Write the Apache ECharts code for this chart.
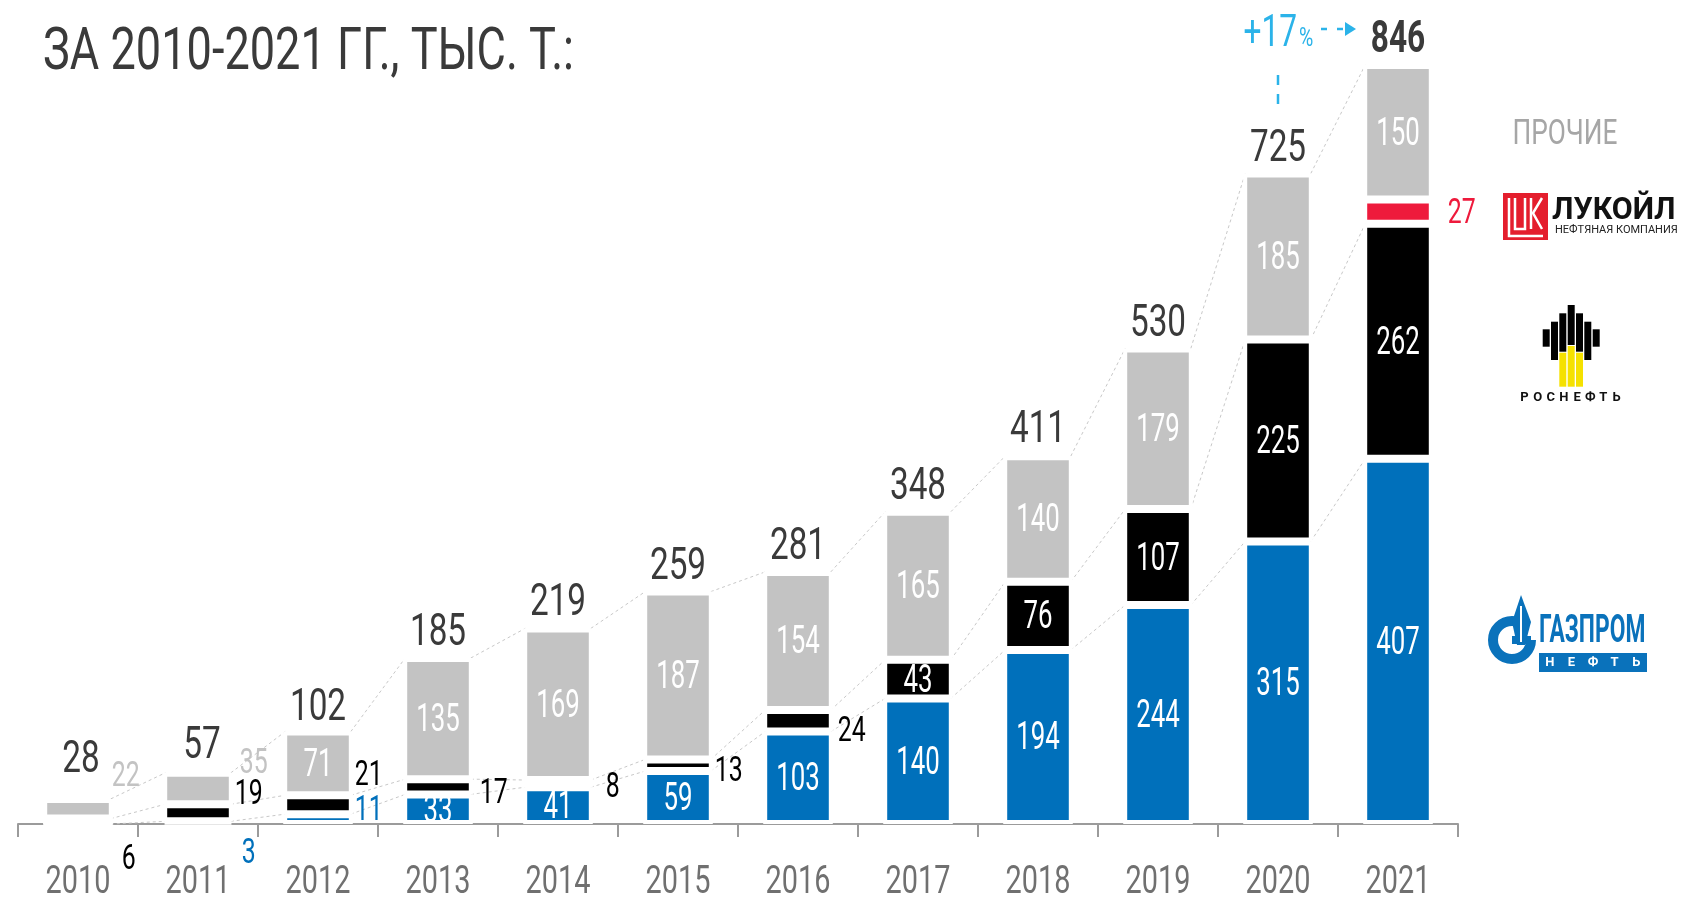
<!DOCTYPE html>
<html>
<head>
<meta charset="utf-8">
<script src="https://cdn.jsdelivr.net/npm/echarts@6/dist/echarts.min.js"></script>
<style>
  html, body { margin: 0; padding: 0; background: #fff; }
  #chart { width: 1691px; height: 908px; }
</style>
</head>
<body>
<div id="chart"></div>
<script>
// годы и значения (тыс. т)
const years = ['2010', '2011', '2012', '2013', '2014', '2015', '2016', '2017', '2018', '2019', '2020', '2021'];
const gazpromNeft = [0, 3, 11, 33, 41, 59, 103, 140, 194, 244, 315, 407];
const rosneft = [6, 19, 21, 17, 8, 13, 24, 43, 76, 107, 225, 262];
const lukoil = [0, 0, 0, 0, 0, 0, 0, 0, 0, 0, 0, 27];
const others = [22, 35, 71, 135, 169, 187, 154, 165, 140, 179, 185, 150];
const totals = [28, 57, 102, 185, 219, 259, 281, 348, 411, 530, 725, 846];
const growthText = '+17';

const FONT = "Roboto, 'DejaVu Sans', sans-serif";
const colors = { gazprom: '#0070bb', rosneft: '#000000', lukoil: '#ee1a3c', others: '#c3c3c3' };
const segKeys = ['gazprom', 'rosneft', 'lukoil', 'others'];

// подписи маленьких сегментов справа от столбца: [отступ от края, сдвиг по y]
const outsideLabels = {
  others: { 0: [1, -34], 1: [9, -27] },
  rosneft: { 0: [11, 36], 1: [4, -21], 2: [4, -31], 3: [9, 4], 4: [15, 2], 5: [4, 4], 6: [7, 8] },
  gazprom: { 1: [11, 29], 2: [4, -11] },
  lukoil: { 11: [17, 0] }
};
const totalShift = { 0: [3, -14], 1: [4, -2] };

function barSeries(name, key, values) {
  return {
    name: name, type: 'bar', stack: 'total', barWidth: '58%',
    itemStyle: { color: colors[key], borderColor: '#fff', borderWidth: 4 },
    data: values,
    z: 3
  };
}

// текст с горизонтальным сжатием (узкий шрифт)
function txt(x, y, text, fill, size, sx, opts) {
  opts = opts || {};
  return {
    type: 'text', x: x, y: y + 3, scaleX: sx,
    style: {
      text: text, fill: fill, font: (opts.bold ? 'bold ' : '') + size + 'px ' + FONT,
      align: opts.align || 'center', verticalAlign: 'middle'
    }
  };
}

// уровни для пунктирных соединительных линий
const lvlBlue = gazpromNeft.slice();
const lvlBlack = gazpromNeft.map((v, i) => v + rosneft[i]);
const lvlTop = gazpromNeft.map((v, i) => v + rosneft[i] + lukoil[i] + others[i]);
const connectorData = [];
for (let i = 0; i < years.length - 1; i++) {
  connectorData.push([i, lvlBlue[i], lvlBlack[i], lvlTop[i], lvlBlue[i + 1], lvlBlack[i + 1], lvlTop[i + 1]]);
}
const labelData = years.map((y, i) => [i, gazpromNeft[i], rosneft[i], lukoil[i], others[i], totals[i]]);

const chart = echarts.init(document.getElementById('chart'));

const option = {
  animation: false,
  backgroundColor: '#fff',
  grid: { left: 18, right: 233, top: 21, bottom: 84, outerBoundsMode: 'none' },
  xAxis: {
    type: 'category',
    data: years,
    axisLine: { lineStyle: { color: '#9b9b9b', width: 2 } },
    axisTick: { show: true, length: 13, lineStyle: { color: '#9b9b9b', width: 2 } },
    axisLabel: { show: false }
  },
  yAxis: { type: 'value', min: 0, max: 895, show: false, splitLine: { show: false } },
  series: [
    barSeries('Газпром нефть', 'gazprom', gazpromNeft),
    barSeries('Роснефть', 'rosneft', rosneft),
    barSeries('Лукойл', 'lukoil', lukoil),
    barSeries('Прочие', 'others', others),
    {
      type: 'custom', z: 1, silent: true, clip: false,
      encode: { x: 0, y: 1 },
      data: connectorData,
      renderItem: function (params, api) {
        const i = api.value(0);
        const half = api.size([1, 0])[0] * 0.58 / 2 - 2;
        const children = [];
        for (let k = 0; k < 3; k++) {
          const p1 = api.coord([i, api.value(1 + k)]);
          const p2 = api.coord([i + 1, api.value(4 + k)]);
          children.push({
            type: 'line',
            shape: { x1: p1[0] + half, y1: p1[1], x2: p2[0] - half, y2: p2[1] },
            style: { stroke: '#c8c8c8', lineWidth: 1, lineDash: [3, 3] }
          });
        }
        return { type: 'group', children: children };
      }
    },
    {
      // подписи: сегменты, итоги, годы
      type: 'custom', z: 10, silent: true, clip: false,
      encode: { x: 0, y: 5 },
      data: labelData,
      renderItem: function (params, api) {
        const i = api.value(0);
        const half = api.size([1, 0])[0] * 0.58 / 2 - 2;
        const base = api.coord([i, 0]);
        const cx = base[0];
        const children = [];
        let cum = 0;
        segKeys.forEach(function (key, k) {
          const v = api.value(1 + k);
          if (!v) return;
          const yA = api.coord([i, cum])[1];
          const yB = api.coord([i, cum + v])[1];
          cum += v;
          const yc = (yA + yB) / 2;
          const out = outsideLabels[key][i];
          if (out) children.push(txt(cx + half + out[0], yc + out[1], String(v), colors[key], 35, 0.71, { align: 'left' }));
          else children.push(txt(cx, yc, String(v), '#fff', 38, 0.68));
        });
        const t = api.value(5);
        const pt = api.coord([i, t]);
        const sh = totalShift[i] || [0, 0];
        const last = i === years.length - 1;
        children.push(txt(cx + sh[0], pt[1] - 27 + sh[1], String(t), '#3a3a3a', last ? 44 : 45, last ? 0.72 : 0.74, { bold: last }));
        children.push(txt(cx, base[1] + 56, years[i], '#707070', 39, 0.74));
        return { type: 'group', children: children };
      }
    }
  ]
};
chart.setOption(option);

// заголовок, аннотация роста и логотипы
const p20 = chart.convertToPixel({ gridIndex: 0 }, ['2020', totals[10]]);
const p21 = chart.convertToPixel({ gridIndex: 0 }, ['2021', totals[11]]);
const annY = p21[1] - 33;

const graphics = [
  txt(43, 51, 'ЗА 2010-2021 ГГ., ТЫС. Т.:', '#3a3a3a', 59, 0.765, { align: 'left' }),
  txt(p20[0] + 19, annY, growthText, '#2bb3e9', 44, 0.72, { align: 'right' }),
  txt(p20[0] + 21, annY + 5, '%', '#2bb3e9', 26, 0.75, { align: 'left' }),
  {
    type: 'line', shape: { x1: p20[0] + 43, y1: annY - 3, x2: p21[0] - 53, y2: annY - 3 },
    style: { stroke: '#2bb3e9', lineWidth: 2.5, lineDash: [6, 10] }
  },
  {
    type: 'polygon', shape: { points: [[p21[0] - 53, annY - 10], [p21[0] - 42, annY - 3], [p21[0] - 53, annY + 4]] },
    style: { fill: '#2bb3e9' }
  },
  {
    type: 'line', shape: { x1: p20[0], y1: annY + 43, x2: p20[0], y2: annY + 74 },
    style: { stroke: '#2bb3e9', lineWidth: 2.5, lineDash: [10, 9] }
  },
  // ПРОЧИЕ
  txt(1565, 132, 'ПРОЧИЕ', '#a6a6a6', 35, 0.75),
  // ЛУКОЙЛ
  { type: 'rect', shape: { x: 1503, y: 193, width: 45, height: 47 }, style: { fill: '#e41e2d' } },
  { type: 'polyline', shape: { points: [[1509, 198], [1509, 236], [1543, 236]] }, style: { stroke: '#fff', lineWidth: 2.5, fill: null } },
  { type: 'polyline', shape: { points: [[1515, 198], [1515, 229], [1525, 229], [1525, 198]] }, style: { stroke: '#fff', lineWidth: 2.5, fill: null } },
  { type: 'polyline', shape: { points: [[1531, 198], [1531, 229]] }, style: { stroke: '#fff', lineWidth: 2.5, fill: null } },
  { type: 'polyline', shape: { points: [[1542, 198], [1533, 213], [1542, 229]] }, style: { stroke: '#fff', lineWidth: 2.5, fill: null } },
  txt(1552, 208, 'ЛУКОЙЛ', '#111', 32, 0.95, { bold: true, align: 'left' }),
  txt(1555, 227, 'НЕФТЯНАЯ КОМПАНИЯ', '#222', 11, 1, { align: 'left' }),
  // ГАЗПРОМ НЕФТЬ
  { type: 'arc', shape: { cx: 1512, cy: 640, r: 19, startAngle: 0, endAngle: 5.3, clockwise: true }, style: { stroke: '#0a72bb', lineWidth: 10, fill: null } },
  { type: 'rect', shape: { x: 1512, y: 636, width: 19, height: 8 }, style: { fill: '#0a72bb' } },
  { type: 'polygon', shape: { points: [[1521, 595], [1531, 622], [1525, 645], [1517, 645], [1512, 622]] }, style: { fill: '#0a72bb' } },
  { type: 'line', shape: { x1: 1521, y1: 606, x2: 1521, y2: 642 }, style: { stroke: '#fff', lineWidth: 2 } },
  txt(1539, 629, 'ГАЗПРОМ', '#0a72bb', 38, 0.6, { bold: true, align: 'left' }),
  { type: 'rect', shape: { x: 1539, y: 653, width: 108, height: 19 }, style: { fill: '#0a72bb' } }
];

// столбики логотипа Роснефти: [left, top, blackBottom, yellowBottom]
const rnBars = [
  [1542.7, 329.3, 346.7, 0], [1551, 321.7, 360, 0], [1559.3, 313.3, 351.7, 386.7],
  [1567.7, 305, 345, 386.7], [1576, 313.3, 351.7, 386.7], [1584.3, 321.7, 360, 0], [1592.7, 329.3, 346.7, 0]
];
rnBars.forEach(function (b) {
  graphics.push({ type: 'rect', shape: { x: b[0], y: b[1], width: 7, height: b[2] - b[1] }, style: { fill: '#000' } });
  if (b[3]) graphics.push({ type: 'rect', shape: { x: b[0], y: b[2] + 1, width: 7, height: b[3] - b[2] - 1 }, style: { fill: '#f5e100' } });
});
'РОСНЕФТЬ'.split('').forEach(function (ch, k) {
  graphics.push(txt(1518 + 105 * (k + 0.5) / 8, 395, ch, '#111', 13, 1, { bold: true }));
});
'НЕФТЬ'.split('').forEach(function (ch, k) {
  graphics.push(txt(1539 + 108 * (k + 0.5) / 5, 660, ch, '#fff', 13, 1, { bold: true }));
});

chart.setOption({ graphic: graphics });
</script>
</body>
</html>
